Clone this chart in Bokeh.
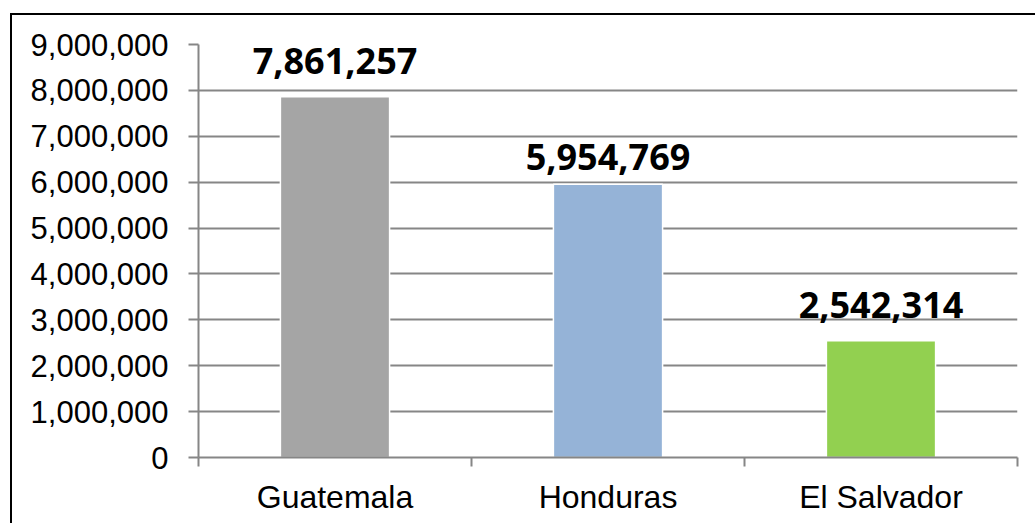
from bokeh.plotting import figure
from bokeh.models import (Range1d, FixedTicker, NumeralTickFormatter, ColumnDataSource,
                          InlineStyleSheet)
from bokeh.core.properties import value
from bokeh.embed import file_html
from bokeh.resources import INLINE

countries = ["Guatemala", "Honduras", "El Salvador"]
population = [7861257, 5954769, 2542314]
colors = ["#A5A5A5", "#95B3D7", "#92D050"]
y_ticks = [0, 1000000, 2000000, 3000000, 4000000, 5000000, 6000000, 7000000, 8000000, 9000000]
label_offsets = [-36, -27, -36]  # pixel offsets of the value labels above the bars

xs = [i + 0.5 for i in range(len(countries))]
src = ColumnDataSource(dict(
    x=xs, top=population, color=colors, yoff=label_offsets,
    label=["{:,}".format(v) for v in population],
))

p = figure(width=1035, height=523, output_backend="svg", toolbar_location=None,
           x_range=Range1d(0, len(countries)), y_range=Range1d(0, 9000000),
           min_border_left=198, min_border_right=18, min_border_top=44, min_border_bottom=66)
p.outline_line_color = None
p.background_fill_color = "white"
p.border_fill_color = "white"

p.vbar(x="x", top="top", bottom=0, width=0.4, fill_color="color",
       line_color="#FFFFFF", line_width=1.5, source=src)

p.text(x="x", y="top", text="label", source=src, text_align="center",
       text_baseline="alphabetic", y_offset="yoff",
       text_font=value("Open Sans"), text_font_style="bold",
       text_font_size="36px", text_color="black")

grid_col = "#868686"
# y axis
p.yaxis.ticker = FixedTicker(ticks=y_ticks)
p.yaxis.formatter = NumeralTickFormatter(format="0,0")
p.yaxis.axis_line_color = grid_col
p.yaxis.axis_line_width = 2
p.yaxis.major_tick_line_color = grid_col
p.yaxis.major_tick_line_width = 2
p.yaxis.major_tick_out = 10
p.yaxis.major_tick_in = 0
p.yaxis.minor_tick_line_color = None
p.yaxis.major_label_standoff = 20
p.yaxis.major_label_text_font = "Liberation Sans"
p.yaxis.major_label_text_font_size = "31px"
p.yaxis.major_label_text_color = "black"

# x axis: labels centred, ticks at category boundaries
p.xaxis.ticker = FixedTicker(ticks=xs, minor_ticks=list(range(len(countries) + 1)))
p.xaxis.major_label_overrides = {x: c for x, c in zip(xs, countries)}
p.xaxis.axis_line_color = grid_col
p.xaxis.axis_line_width = 2
p.xaxis.major_tick_line_color = None
p.xaxis.major_tick_out = 0
p.xaxis.major_tick_in = 0
p.xaxis.minor_tick_line_color = grid_col
p.xaxis.minor_tick_line_width = 2
p.xaxis.minor_tick_out = 9
p.xaxis.minor_tick_in = 0
p.xaxis.major_label_standoff = 12
p.xaxis.major_label_text_font = "Liberation Sans"
p.xaxis.major_label_text_font_size = "32px"
p.xaxis.major_label_text_color = "black"

p.xgrid.grid_line_color = None
p.ygrid.ticker = FixedTicker(ticks=y_ticks)
p.ygrid.grid_line_color = grid_col
p.ygrid.grid_line_width = 2

# chart-area frame: only its left and top edges fall inside the picture
p.stylesheets = [InlineStyleSheet(css=(
    ":host { position: relative; overflow: hidden; }"
    ":host::after { content: ''; position: absolute; left: 10px; top: 13px;"
    " right: 0px; bottom: 0px; border-left: 2px solid black; border-top: 2px solid black;"
    " pointer-events: none; z-index: 10; }"
))]

open("out.html", "w").write(file_html(p, INLINE))
